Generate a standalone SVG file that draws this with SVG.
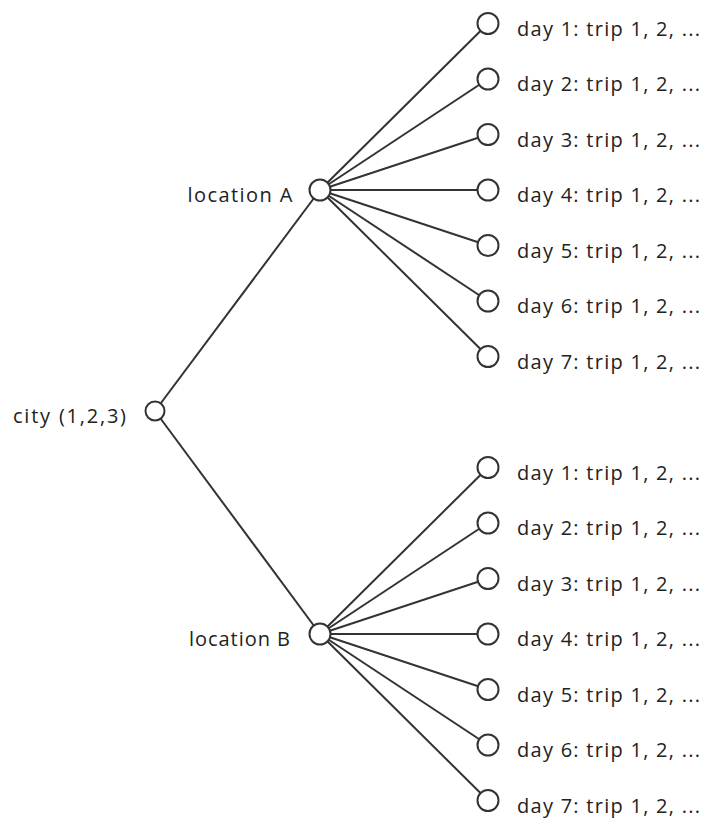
<svg xmlns="http://www.w3.org/2000/svg" width="704" height="819" viewBox="0 0 704 819">
<style>
.e{stroke:#333;stroke-width:2;fill:none}
.n{stroke:#333;stroke-width:2;fill:#fff}
.t{font-family:"Open Sans","Liberation Sans",Arial,sans-serif;font-size:20px;fill:#222}
</style>
<rect width="704" height="819" fill="#fff"/>
<g id="connectors">
<line class="e" x1="155" y1="411" x2="320" y2="190"/>
<line class="e" x1="155" y1="411" x2="320" y2="634"/>
<line class="e" x1="320" y1="190" x2="488" y2="23.5"/>
<line class="e" x1="320" y1="190" x2="488" y2="79"/>
<line class="e" x1="320" y1="190" x2="488" y2="134.5"/>
<line class="e" x1="320" y1="190" x2="488" y2="190"/>
<line class="e" x1="320" y1="190" x2="488" y2="245.5"/>
<line class="e" x1="320" y1="190" x2="488" y2="301"/>
<line class="e" x1="320" y1="190" x2="488" y2="356.5"/>
<line class="e" x1="320" y1="634" x2="488" y2="467.5"/>
<line class="e" x1="320" y1="634" x2="488" y2="523"/>
<line class="e" x1="320" y1="634" x2="488" y2="578.5"/>
<line class="e" x1="320" y1="634" x2="488" y2="634"/>
<line class="e" x1="320" y1="634" x2="488" y2="689.5"/>
<line class="e" x1="320" y1="634" x2="488" y2="745"/>
<line class="e" x1="320" y1="634" x2="488" y2="800.5"/>
</g>
<g id="city"><circle class="n" cx="155" cy="411" r="9.5"/><text class="t" x="13" y="423" textLength="113">city (1,2,3)</text></g>
<g id="locA"><circle class="n" cx="320" cy="190" r="10.5"/><text class="t" x="187.5" y="202" textLength="105">location A</text></g>
<g id="locB"><circle class="n" cx="320" cy="634" r="10.5"/><text class="t" x="189" y="646" textLength="101">location B</text></g>
<g id="a1"><circle class="n" cx="488" cy="23.5" r="10.5"/><text class="t" x="517" y="35.5" textLength="183">day 1: trip 1, 2, ...</text></g>
<g id="a2"><circle class="n" cx="488" cy="79" r="10.5"/><text class="t" x="517" y="91" textLength="183">day 2: trip 1, 2, ...</text></g>
<g id="a3"><circle class="n" cx="488" cy="134.5" r="10.5"/><text class="t" x="517" y="146.5" textLength="183">day 3: trip 1, 2, ...</text></g>
<g id="a4"><circle class="n" cx="488" cy="190" r="10.5"/><text class="t" x="517" y="202" textLength="183">day 4: trip 1, 2, ...</text></g>
<g id="a5"><circle class="n" cx="488" cy="245.5" r="10.5"/><text class="t" x="517" y="257.5" textLength="183">day 5: trip 1, 2, ...</text></g>
<g id="a6"><circle class="n" cx="488" cy="301" r="10.5"/><text class="t" x="517" y="313" textLength="183">day 6: trip 1, 2, ...</text></g>
<g id="a7"><circle class="n" cx="488" cy="356.5" r="10.5"/><text class="t" x="517" y="368.5" textLength="183">day 7: trip 1, 2, ...</text></g>
<g id="b1"><circle class="n" cx="488" cy="467.5" r="10.5"/><text class="t" x="517" y="479.5" textLength="183">day 1: trip 1, 2, ...</text></g>
<g id="b2"><circle class="n" cx="488" cy="523" r="10.5"/><text class="t" x="517" y="535" textLength="183">day 2: trip 1, 2, ...</text></g>
<g id="b3"><circle class="n" cx="488" cy="578.5" r="10.5"/><text class="t" x="517" y="590.5" textLength="183">day 3: trip 1, 2, ...</text></g>
<g id="b4"><circle class="n" cx="488" cy="634" r="10.5"/><text class="t" x="517" y="646" textLength="183">day 4: trip 1, 2, ...</text></g>
<g id="b5"><circle class="n" cx="488" cy="689.5" r="10.5"/><text class="t" x="517" y="701.5" textLength="183">day 5: trip 1, 2, ...</text></g>
<g id="b6"><circle class="n" cx="488" cy="745" r="10.5"/><text class="t" x="517" y="757" textLength="183">day 6: trip 1, 2, ...</text></g>
<g id="b7"><circle class="n" cx="488" cy="800.5" r="10.5"/><text class="t" x="517" y="812.5" textLength="183">day 7: trip 1, 2, ...</text></g>
</svg>
